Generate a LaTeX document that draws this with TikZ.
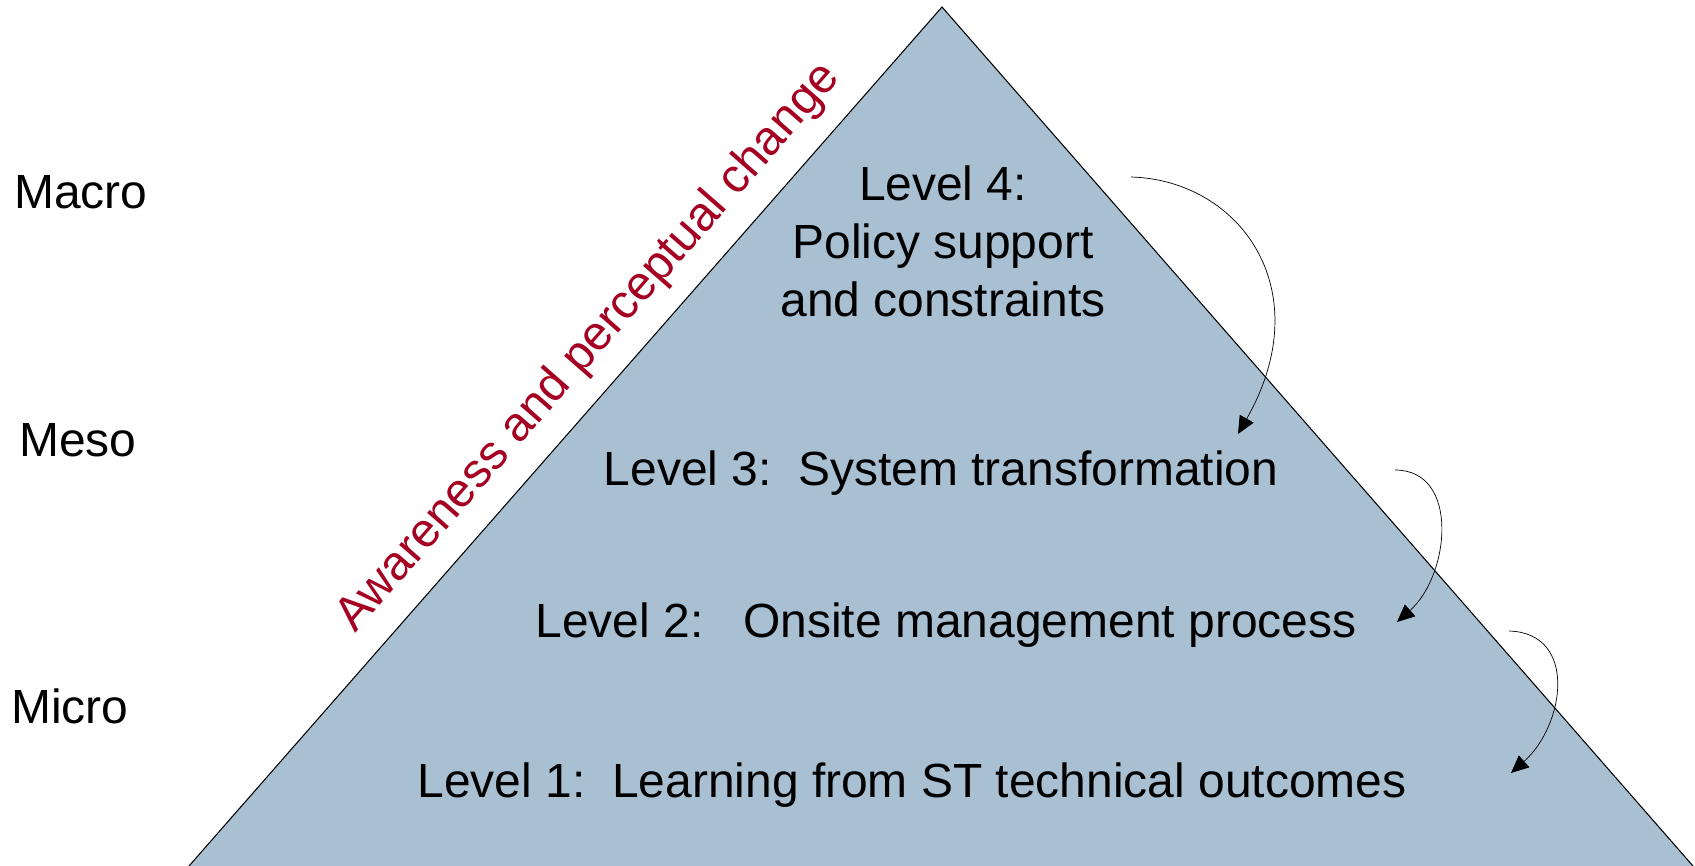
\documentclass[tikz,border=0pt]{standalone}
\usepackage{fontspec}
\setmainfont{Liberation Sans}
\usetikzlibrary{arrows.meta}
\definecolor{pyramidblue}{HTML}{A9BFD2}
\definecolor{changered}{HTML}{A50021}
\tikzstyle{label}=[font=\fontsize{27.3}{33}\selectfont, inner sep=0pt]
\tikzstyle{level}=[label, align=center]
\tikzstyle{step arrow}=[line width=0.4pt, -{Triangle[length=10pt, width=9pt]}]

\begin{document}
\begin{tikzpicture}[x=0.02cm, y=-0.02cm]
    \useasboundingbox (0,0) rectangle (1695,866);
% Pyramid
    \fill[pyramidblue] (189,866) -- (942,7) -- (1693,866) -- cycle;
    \draw[line width=0.6pt] (189,866) -- (942,7) -- (1693,866);
% Scales
    \node[label] (macro) at (81,192) {Macro};
    \node[label] (meso) at (78,440) {Meso};
    \node[label] (micro) at (70,706) {Micro};
% Levels
    \node[level] (l4) at (943,241) {Level 4:\\Policy support\\and constraints};
    \node[level] (l3) at (941,473) {Level 3:\ \ System transformation};
    \node[level] (l2) at (946,625) {Level 2:\ \ \ Onsite management process};
    \node[level] (l1) at (912,785) {Level 1:\ \ Learning from ST technical outcomes};
% Side text
    \node[label, changered, rotate=48.8] (change) at (589,348) {Awareness and perceptual change};
% Arrows between levels
    \coordinate (a4) at (1131,177);
    \coordinate (b3) at (1238,434);
    \coordinate (a3) at (1395,470);
    \coordinate (b2) at (1397,622);
    \coordinate (a2) at (1509,631);
    \coordinate (b1) at (1511,773);
    \draw[step arrow] (a4) .. controls (1240,180) and (1320,290) .. (b3);
    \draw[step arrow] (a3) .. controls (1460,470) and (1450,575) .. (b2);
    \draw[step arrow] (a2) .. controls (1578,633) and (1565,725) .. (b1);
\end{tikzpicture}
\end{document}
